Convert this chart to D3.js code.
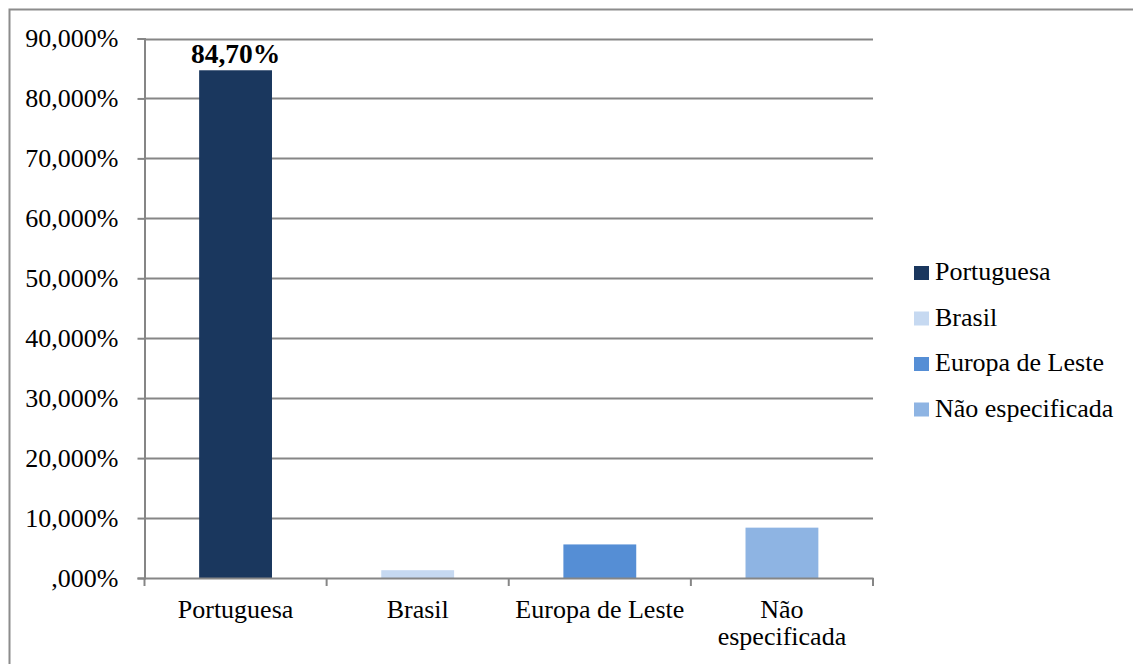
<!DOCTYPE html>
<html>
<head>
<meta charset="utf-8">
<script src="https://cdn.jsdelivr.net/npm/d3@7"></script>
<style>
	body { margin: 0; background: #fff; }
</style>
</head>
<body>
<div id="chart"></div>
<script>
// data
const categories = ['Portuguesa', 'Brasil', 'Europa de Leste', 'Não especificada']
const values = [84.7, 1.3, 5.6, 8.4]
const colors = ['#1a375e', '#c6d9f1', '#558ed5', '#8eb4e3']
const yTicks = [0, 10, 20, 30, 40, 50, 60, 70, 80, 90]
const axisLabels = [['Portuguesa'], ['Brasil'], ['Europa de Leste'], ['Não', 'especificada']]

const width = 1133
const height = 664
const margin = { left: 144.5, right: 260, top: 38.5, bottom: 86 }
const fontSize = '26px'
const fontFamily = '"Liberation Serif"'

const svg = d3.select('#chart').append('svg').attr('width', width).attr('height', height)

// outer chart border (runs off right/bottom edge)
svg.append('rect')
	.attr('x', 9.5).attr('y', 9.5)
	.attr('width', width + 20).attr('height', height + 20)
	.attr('fill', 'none').attr('stroke', '#8c8c8c').attr('stroke-width', 2)

const x = d3.scaleBand().domain(categories).range([margin.left, width - margin.right])
const y = d3.scaleLinear().domain([0, 90]).range([height - margin.bottom, margin.top])

const fmt = v => (v === 0 ? '' : d3.format('d')(v)) + ',000%'

// gridlines
svg.append('g')
	.selectAll('line')
	.data(yTicks.filter(d => d > 0))
	.enter()
	.append('line')
	.attr('x1', margin.left).attr('x2', width - margin.right)
	.attr('y1', d => Math.round(y(d)) + 0.5).attr('y2', d => Math.round(y(d)) + 0.5)
	.attr('stroke', '#868686').attr('stroke-width', 2)

// y axis
const yAxis = svg.append('g')
	.attr('transform', `translate(${margin.left},0)`)
	.call(d3.axisLeft(y).tickValues(yTicks).tickFormat(fmt).tickSize(7).tickPadding(19))
yAxis.select('.domain').attr('stroke', '#868686').attr('stroke-width', 2)
yAxis.selectAll('.tick line').attr('stroke', '#868686').attr('stroke-width', 2)
yAxis.selectAll('.tick text')
	.style('font-size', fontSize)
	.style('font-family', fontFamily)

// bars
svg.append('g')
	.selectAll('rect')
	.data(values)
	.enter()
	.append('rect')
	.attr('x', (d, i) => x(categories[i]) + x.bandwidth() * 0.3)
	.attr('width', x.bandwidth() * 0.4)
	.attr('y', d => y(d))
	.attr('height', d => y(0) - y(d))
	.attr('fill', (d, i) => colors[i])

// x axis
const xAxis = svg.append('g')
	.attr('transform', `translate(0,${y(0)})`)
	.call(d3.axisBottom(x).tickSize(0).tickFormat(''))
xAxis.select('.domain').attr('stroke', '#868686').attr('stroke-width', 2)
svg.append('g')
	.selectAll('line')
	.data(d3.range(categories.length + 1))
	.enter()
	.append('line')
	.attr('x1', i => margin.left + i * x.step()).attr('x2', i => margin.left + i * x.step())
	.attr('y1', y(0)).attr('y2', y(0) + 8)
	.attr('stroke', '#868686').attr('stroke-width', 2)

// category labels
svg.append('g')
	.selectAll('text')
	.data(axisLabels)
	.enter()
	.append('text')
	.attr('text-anchor', 'middle')
	.style('font-size', fontSize)
	.style('font-family', fontFamily)
	.attr('x', (d, i) => x(categories[i]) + x.bandwidth() / 2)
	.attr('y', y(0) + 40)
	.selectAll('tspan')
	.data(d => d)
	.enter()
	.append('tspan')
	.attr('x', function () { return this.parentNode.getAttribute('x') })
	.attr('dy', (d, i) => (i === 0 ? 0 : 27))
	.text(d => d)

// data label on first bar
svg.append('text')
	.attr('x', x(categories[0]) + x.bandwidth() / 2)
	.attr('y', y(values[0]) - 7)
	.attr('text-anchor', 'middle')
	.style('font-size', '27.5px')
	.style('font-family', fontFamily)
	.style('font-weight', 'bold')
	.text(d3.format('.2f')(values[0]).replace('.', ',') + '%')

// legend
const legend = svg.append('g')
	.selectAll('g')
	.data(categories)
	.enter()
	.append('g')
	.attr('transform', (d, i) => `translate(914,${273 + i * 45.5})`)
legend.append('rect')
	.attr('x', 0).attr('y', -7)
	.attr('width', 15).attr('height', 14)
	.attr('fill', (d, i) => colors[i])
legend.append('text')
	.attr('x', 21).attr('y', 7)
	.style('font-size', fontSize)
	.style('font-family', fontFamily)
	.text(d => d)
</script>
</body>
</html>
